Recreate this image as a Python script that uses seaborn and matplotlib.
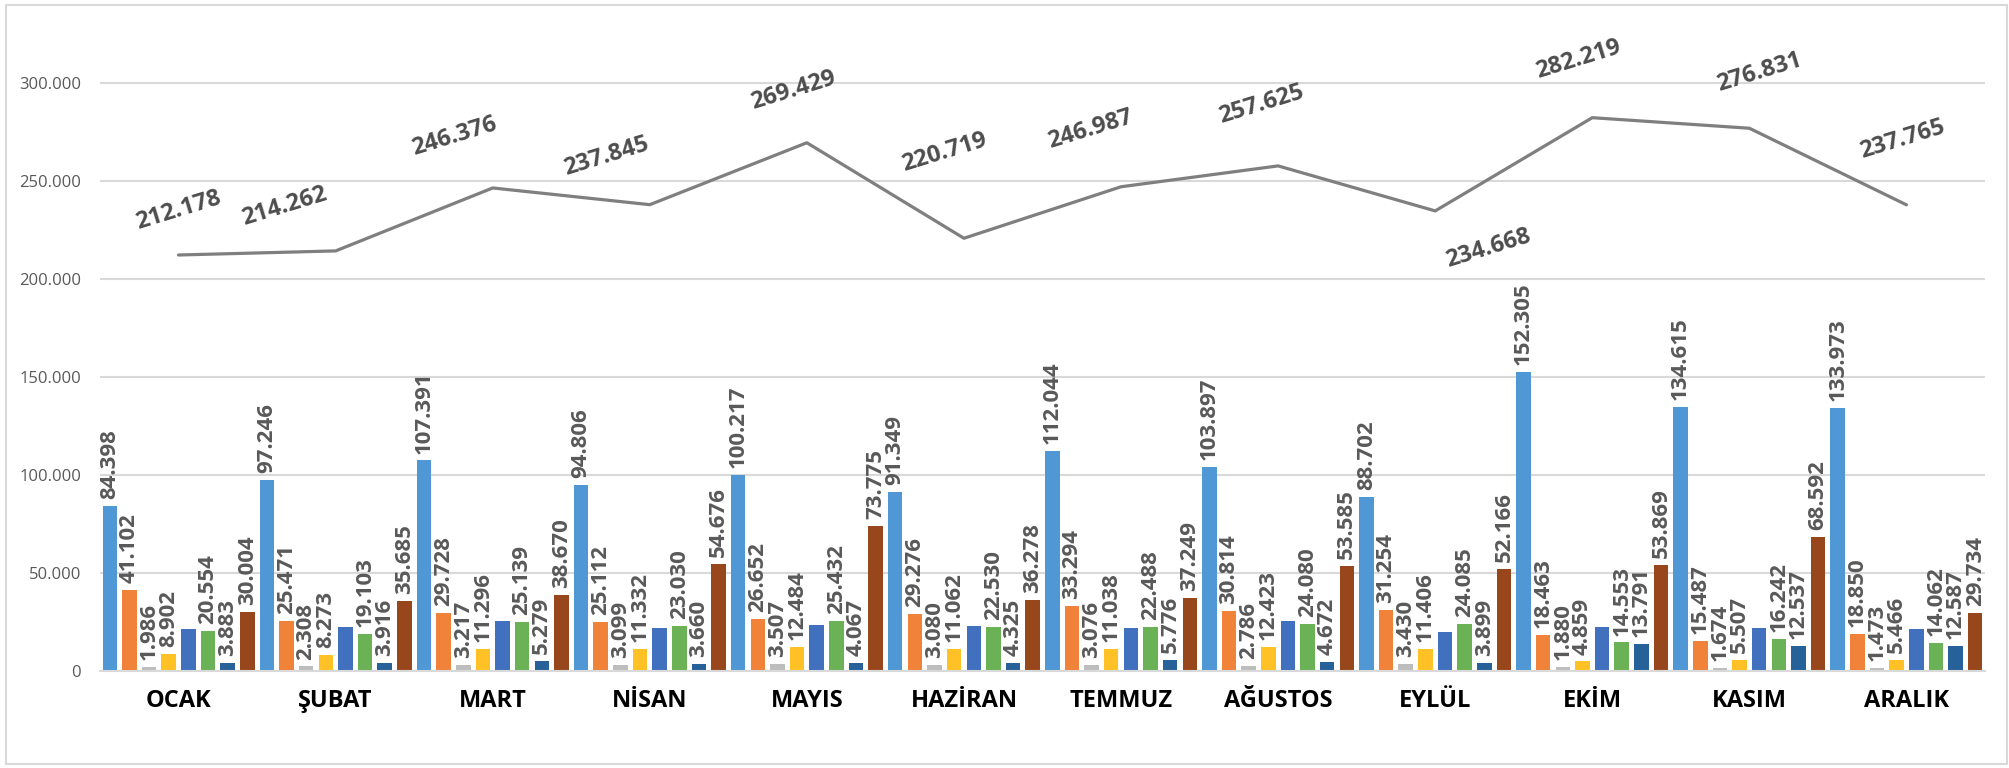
import numpy as np
import pandas as pd
import matplotlib
matplotlib.use("Agg")
import matplotlib.pyplot as plt
from matplotlib.patches import Rectangle
import seaborn as sns

months = ["OCAK", "ŞUBAT", "MART", "NİSAN", "MAYIS", "HAZİRAN", "TEMMUZ",
          "AĞUSTOS", "EYLÜL", "EKİM", "KASIM", "ARALIK"]

series_names = ["Seri 1", "Seri 2", "Seri 3", "Seri 4", "Seri 5", "Seri 6", "Seri 7", "Seri 8"]

s1 = [84398, 97246, 107391, 94806, 100217, 91349, 112044, 103897, 88702, 152305, 134615, 133973]
s2 = [41102, 25471, 29728, 25112, 26652, 29276, 33294, 30814, 31254, 18463, 15487, 18850]
s3 = [1986, 2308, 3217, 3099, 3507, 3080, 3076, 2786, 3430, 1880, 1674, 1473]
s4 = [8902, 8273, 11296, 11332, 12484, 11062, 11038, 12423, 11406, 4859, 5507, 5466]
s5 = [21349, 22260, 25656, 22130, 23295, 22819, 22022, 25368, 19726, 22499, 22177, 21620]
s6 = [20554, 19103, 25139, 23030, 25432, 22530, 22488, 24080, 24085, 14553, 16242, 14062]
s7 = [3883, 3916, 5279, 3660, 4067, 4325, 5776, 4672, 3899, 13791, 12537, 12587]
s8 = [30004, 35685, 38670, 54676, 73775, 36278, 37249, 53585, 52166, 53869, 68592, 29734]
totals = [212178, 214262, 246376, 237845, 269429, 220719, 246987, 257625, 234668, 282219, 276831, 237765]

series_values = [s1, s2, s3, s4, s5, s6, s7, s8]
labeled = [True, True, True, True, False, True, True, True]

colors = ["#4F98D5", "#F0823A", "#BDBDBD", "#FFC125", "#4170BE", "#6BB155", "#26619A", "#98461C"]

# label offsets (points) for the total line labels
line_label_offsets = [(0, 32), (-37, 32), (-28, 37), (-31, 35), (-10, 38), (-14, 62),
                      (-22, 41), (-12, 44), (38, -27), (-10, 42), (7, 40), (-3, 47)]

def fmt(v):
    return f"{int(v):,}".replace(",", ".")

rows = []
for name, vals in zip(series_names, series_values):
    for m, v in zip(months, vals):
        rows.append({"month": m, "series": name, "value": v})
df = pd.DataFrame(rows)

sns.set_style("white")
plt.rcParams["font.family"] = ["Open Sans", "DejaVu Sans"]

fig = plt.figure(figsize=(20.09, 7.68), dpi=100)
ax = fig.add_axes([100 / 2009, (768 - 671) / 768, (1985 - 100) / 2009, 647 / 768])

sns.barplot(data=df, x="month", y="value", hue="series", order=months,
            hue_order=series_names, palette=colors, saturation=1,
            width=1.0, gap=0.26, errorbar=None, legend=False, ax=ax,
            linewidth=0)

for cont, vals, lab in zip(ax.containers, series_values, labeled):
    if lab:
        ax.bar_label(cont, labels=[fmt(v) for v in vals], rotation=90,
                     padding=5, fontsize=16, fontweight="bold", color="#595959")

x = np.arange(len(months))
sns.lineplot(x=x, y=totals, color="#7F7F7F", linewidth=2.3, ax=ax)

for i, (t, off) in enumerate(zip(totals, line_label_offsets)):
    ax.annotate(fmt(t), (i, t), xytext=off, textcoords="offset points",
                ha="center", va="center", rotation=17, fontsize=17,
                fontweight="bold", color="#4D4D4D")

ax.set_xlim(-0.5, 11.5)
ax.set_ylim(0, 330000)
yt = list(range(0, 300001, 50000))
ax.set_yticks(yt)
ax.set_yticklabels([fmt(v) for v in yt], fontsize=12, color="#595959")
ax.tick_params(axis="y", length=0, pad=13.5)
ax.tick_params(axis="x", length=0, pad=13)
ax.set_xticks(x)
ax.set_xticklabels(months, fontsize=17, fontweight="bold", color="black")
ax.set_xlabel("")
ax.set_ylabel("")
ax.grid(axis="y", color="#D9D9D9", linewidth=1.5)
ax.set_axisbelow(True)
for side in ["left", "right", "top"]:
    ax.spines[side].set_visible(False)
ax.spines["bottom"].set_color("#D9D9D9")
ax.spines["bottom"].set_linewidth(1.5)

fig.patches.append(Rectangle((6 / 2009, 4 / 768), 2001 / 2009, 759 / 768,
                             transform=fig.transFigure, fill=False,
                             edgecolor="#D9D9D9", linewidth=1.5))

fig.savefig("out.png", dpi=100, facecolor="white")
